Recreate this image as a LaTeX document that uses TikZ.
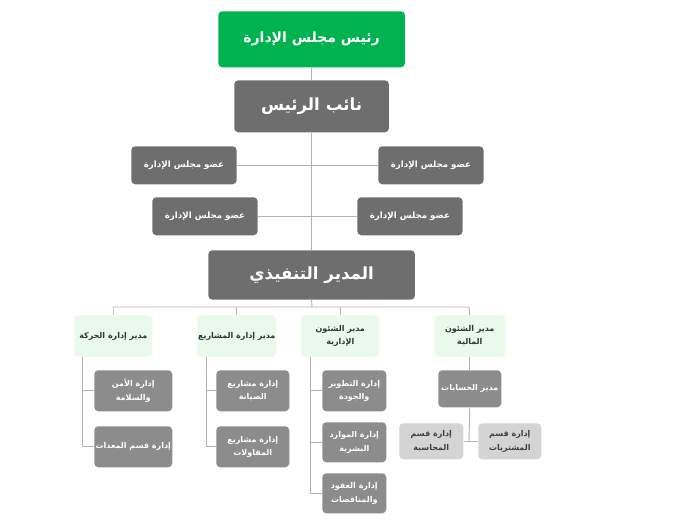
\documentclass[tikz,border=0pt]{standalone}
\usepackage{fontspec}
\newfontfamily\ar[Script=Arabic]{DejaVu Sans}
\TeXXeTstate=1
\begin{document}
\begin{tikzpicture}[x=0.75pt,y=-0.75pt,
 bx/.style={rounded corners=3pt,inner sep=0pt,align=center,font=\ar\fontsize{7}{11}\selectfont},
 ln/.style={draw=gray!60,line width=0.7pt}]
\definecolor{gr}{RGB}{0,178,80}
\definecolor{dk}{RGB}{110,110,110}
\definecolor{md}{RGB}{140,140,140}
\definecolor{lg}{RGB}{212,212,212}
\definecolor{lgr}{RGB}{234,250,234}
\colorlet{wt}{white}
\colorlet{dt}{black!75}
\useasboundingbox (0,0) rectangle (679,526);
% main
\node[bx,fill=gr,text=white,minimum width=140pt,minimum height=42pt,anchor=north west,font=\ar\bfseries\fontsize{10.5}{12}\selectfont] (ch) at (218,11) {\beginR رئيس مجلس الإدارة\endR};
\node[bx,fill=dk,text=white,minimum width=116pt,minimum height=39pt,anchor=north west,font=\ar\bfseries\fontsize{12.5}{14}\selectfont] (vp) at (234,80) {\beginR نائب الرئيس\endR};
\node[bx,fill=dk,text=white,minimum width=155pt,minimum height=37pt,anchor=north west,font=\ar\bfseries\fontsize{12.5}{14}\selectfont] (ex) at (208,250) {\beginR المدير التنفيذي\endR};
\foreach \n/\x/\y in {m1/131/146,m2/378/146,m3/152/197,m4/357/197}
 \node[bx,fill=dk,text=white,minimum width=79pt,minimum height=28.5pt,anchor=north west,font=\ar\bfseries\fontsize{6.5}{8}\selectfont] (\n) at (\x,\y) {\beginR عضو مجلس الإدارة\endR};
\draw[ln] (ch.south) -- (vp.north);
\draw[ln] (vp.south) -- (ex.north);
\draw[ln] (m1.east) -- (m2.west);
\draw[ln] (m3.east) -- (m4.west);
% managers
\foreach \n/\x/\w/\t in {g1/74/78/{مدير إدارة الحركة},g2/197/79/{مدير إدارة المشاريع},g3/301/78/{مدير الشئون\\الإدارية},g4/434/71/{مدير الشئون\\المالية}}
 \node[bx,fill=lgr,text=black!80,minimum width=\w*0.75pt,minimum height=31pt,anchor=north west,font=\ar\bfseries\fontsize{6}{10}\selectfont] (\n) at (\x,315) {\beginR \t\endR};
\coordinate (hl) at (113,307); \coordinate (hr) at (469,307);
\draw[ln] (ex.south) -- (312,307);
\draw[ln] (g1.north) |- (hr) -- (g4.north);
\draw[ln] (g2.north) -- (g2.north|-hl);
\draw[ln] (g3.north) -- (g3.north|-hl);
% children
\foreach \n/\x/\xx/\y/\yy/\f/\tc/\t in {
 a1/94/172/370/411/md/wt/{إدارة الأمن\\والسلامة},
 a2/94/172/426/467/md/wt/{إدارة قسم المعدات},
 b1/216/289/370/411/md/wt/{إدارة مشاريع\\الصيانة},
 b2/216/289/426/467/md/wt/{إدارة مشاريع\\المقاولات},
 c1/322/386/370/411/md/wt/{إدارة التطوير\\والجودة},
 c2/322/386/422/462/md/wt/{إدارة الموارد\\البشرية},
 c3/322/386/473/513/md/wt/{إدارة العقود\\والمناقصات},
 d1/438/501/370/407/md/wt/{مدير الحسابات},
 e1/399/463/423/459/lg/dt/{إدارة قسم\\المحاسبة},
 e2/478/541/423/459/lg/dt/{إدارة قسم\\المشتريات}}
 \node[bx,fill=\f,text=\tc,minimum width={(\xx-\x)*0.75pt},minimum height={(\yy-\y)*0.75pt},anchor=north west,font=\ar\bfseries\fontsize{6}{10}\selectfont] (\n) at (\x,\y) {\beginR \t\endR};
\draw[ln] (g1.south-|82,0) |- (a2.west); \draw[ln] (82,0|-a1.west) -- (a1.west);
\draw[ln] (g2.south-|206,0) |- (b2.west); \draw[ln] (206,0|-b1.west) -- (b1.west);
\draw[ln] (g3.south-|310,0) |- (c3.west); \draw[ln] (310,0|-c1.west) -- (c1.west); \draw[ln] (310,0|-c2.west) -- (c2.west);
\draw[ln] (g4.south) -- (d1.north);
\draw[ln] (d1.south) -- (469,441); \draw[ln] (e1.east) -- (e2.west);
\end{tikzpicture}
\end{document}
